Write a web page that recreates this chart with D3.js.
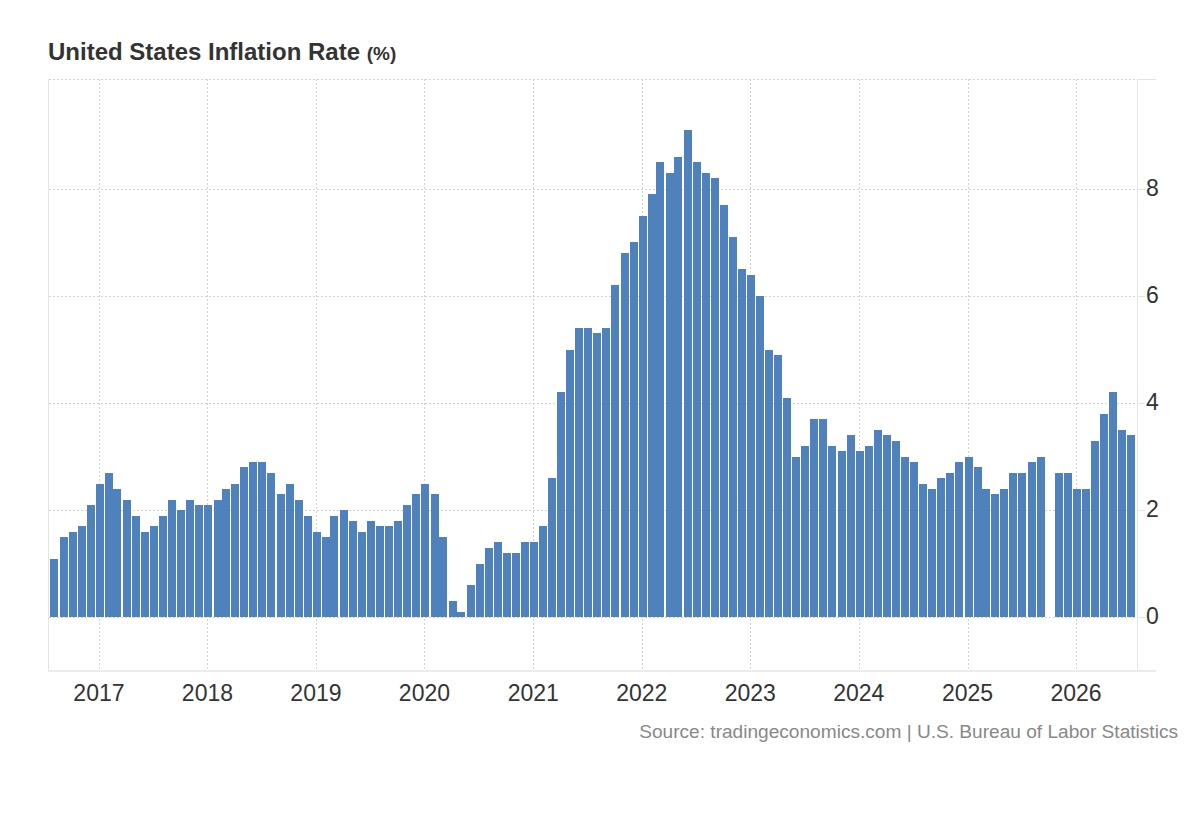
<!DOCTYPE html>
<html>
<head>
<meta charset="utf-8">
<script src="https://cdn.jsdelivr.net/npm/d3@7"></script>
<style>
  body { margin: 0; background: #fff; }
  text { font-family: "Liberation Sans", Arial, Helvetica, sans-serif; }
</style>
</head>
<body>
<div id="vis"></div>
<script>
// US CPI yoy, monthly from Aug 2016 to Jul 2026 (Oct 2025 has no print)
var firstMonth = [2016, 7]; // year, month index (Aug)
var values2016 = [1.1, 1.5, 1.6, 1.7, 2.1];
var values2017 = [2.5, 2.7, 2.4, 2.2, 1.9, 1.6, 1.7, 1.9, 2.2, 2.0, 2.2, 2.1];
var values2018 = [2.1, 2.2, 2.4, 2.5, 2.8, 2.9, 2.9, 2.7, 2.3, 2.5, 2.2, 1.9];
var values2019 = [1.6, 1.5, 1.9, 2.0, 1.8, 1.6, 1.8, 1.7, 1.7, 1.8, 2.1, 2.3];
var values2020 = [2.5, 2.3, 1.5, 0.3, 0.1, 0.6, 1.0, 1.3, 1.4, 1.2, 1.2, 1.4];
var values2021 = [1.4, 1.7, 2.6, 4.2, 5.0, 5.4, 5.4, 5.3, 5.4, 6.2, 6.8, 7.0];
var values2022 = [7.5, 7.9, 8.5, 8.3, 8.6, 9.1, 8.5, 8.3, 8.2, 7.7, 7.1, 6.5];
var values2023 = [6.4, 6.0, 5.0, 4.9, 4.1, 3.0, 3.2, 3.7, 3.7, 3.2, 3.1, 3.4];
var values2024 = [3.1, 3.2, 3.5, 3.4, 3.3, 3.0, 2.9, 2.5, 2.4, 2.6, 2.7, 2.9];
var values2025 = [3.0, 2.8, 2.4, 2.3, 2.4, 2.7, 2.7, 2.9, 3.0, null, 2.7, 2.7];
var values2026 = [2.4, 2.4, 3.3, 3.8, 4.2, 3.5, 3.4];

var yTicks = [0, 2, 4, 6, 8];
var yearTicks = [2017, 2018, 2019, 2020, 2021, 2022, 2023, 2024, 2025, 2026];

var title = "United States Inflation Rate";
var unit = "(%)";
var source = "Source: tradingeconomics.com | U.S. Bureau of Labor Statistics";

var allValues = [].concat(values2016, values2017, values2018, values2019, values2020,
  values2021, values2022, values2023, values2024, values2025, values2026);

var data = allValues.map(function (v, i) {
  return { date: new Date(firstMonth[0], firstMonth[1] + i, 1), value: v };
});

var w = 1200;
var h = 820;
var plotLeft = 49;
var plotRight = 1137;
var plotTop = 79;
var plotBottom = 670.5;
var grid = "#d2d2d2";
var axisColor = "#e4e4e4";
var barColor = "#4f81bd";

var svg = d3.select("#vis").append("svg").attr("width", w).attr("height", h);

var x = d3
  .scaleTime()
  .domain([new Date(2016, 6, 17), new Date(2026, 6, 25)])
  .range([plotLeft, plotRight]);

var y = d3.scaleLinear().domain([-0.99, 10.05]).range([plotBottom, plotTop]);

// dotted grid
svg
  .selectAll(".hgrid")
  .data(yTicks)
  .enter()
  .append("line")
  .attr("x1", plotLeft)
  .attr("x2", plotRight)
  .attr("y1", function (d) { return Math.round(y(d)) + 0.5; })
  .attr("y2", function (d) { return Math.round(y(d)) + 0.5; })
  .attr("stroke", grid)
  .attr("stroke-dasharray", "2,2");

svg
  .append("line")
  .attr("x1", plotLeft)
  .attr("x2", plotRight)
  .attr("y1", plotTop + 0.5)
  .attr("y2", plotTop + 0.5)
  .attr("stroke", grid)
  .attr("stroke-dasharray", "2,2");

svg
  .selectAll(".vgrid")
  .data(yearTicks)
  .enter()
  .append("line")
  .attr("x1", function (d) { return Math.round(x(new Date(d, 0, 1))) + 0.5; })
  .attr("x2", function (d) { return Math.round(x(new Date(d, 0, 1))) + 0.5; })
  .attr("y1", plotTop)
  .attr("y2", plotBottom)
  .attr("stroke", grid)
  .attr("stroke-dasharray", "2,2");

// bars
svg
  .selectAll(".bar")
  .data(data.filter(function (d) { return d.value !== null; }))
  .enter()
  .append("rect")
  .attr("x", function (d) { return x(d.date) - 3; })
  .attr("width", 8)
  .attr("y", function (d) { return y(d.value); })
  .attr("height", function (d) { return y(0) - y(d.value); })
  .attr("fill", barColor)
  .attr("shape-rendering", "crispEdges");

// frame lines
svg
  .append("line")
  .attr("x1", plotLeft - 0.5)
  .attr("x2", plotLeft - 0.5)
  .attr("y1", plotTop)
  .attr("y2", plotBottom)
  .attr("stroke", axisColor);

svg
  .append("line")
  .attr("x1", plotRight + 0.5)
  .attr("x2", plotRight + 0.5)
  .attr("y1", plotTop)
  .attr("y2", plotBottom)
  .attr("stroke", axisColor);

svg
  .append("line")
  .attr("x1", plotLeft - 1)
  .attr("x2", plotRight + 19)
  .attr("y1", plotBottom + 0.5)
  .attr("y2", plotBottom + 0.5)
  .attr("stroke", axisColor)
  .attr("stroke-width", 1.5);

svg
  .append("line")
  .attr("x1", plotRight)
  .attr("x2", plotRight + 19)
  .attr("y1", plotTop + 0.5)
  .attr("y2", plotTop + 0.5)
  .attr("stroke", axisColor);

// y ticks + labels on the right
svg
  .selectAll(".ytick")
  .data(yTicks)
  .enter()
  .append("line")
  .attr("x1", plotRight)
  .attr("x2", plotRight + 8)
  .attr("y1", function (d) { return Math.round(y(d)) + 0.5; })
  .attr("y2", function (d) { return Math.round(y(d)) + 0.5; })
  .attr("stroke", axisColor);

svg
  .selectAll(".ylabel")
  .data(yTicks)
  .enter()
  .append("text")
  .attr("x", plotRight + 9)
  .attr("y", function (d) { return y(d) + 7; })
  .attr("font-size", "23px")
  .attr("fill", "#333")
  .text(function (d) { return d; });

// x labels
svg
  .selectAll(".xlabel")
  .data(yearTicks)
  .enter()
  .append("text")
  .attr("x", function (d) { return x(new Date(d, 0, 1)); })
  .attr("y", 701)
  .attr("text-anchor", "middle")
  .attr("font-size", "23px")
  .attr("fill", "#333")
  .text(function (d) { return d; });

// title
var t = svg
  .append("text")
  .attr("x", 48)
  .attr("y", 60)
  .attr("font-weight", "bold")
  .attr("fill", "#333");
t.append("tspan").attr("font-size", "24px").text(title + " ");
t.append("tspan").attr("font-size", "19px").text(unit);

// source
svg
  .append("text")
  .attr("x", 1178)
  .attr("y", 738)
  .attr("text-anchor", "end")
  .attr("font-size", "19.1px")
  .attr("fill", "#888")
  .text(source);
</script>
</body>
</html>
